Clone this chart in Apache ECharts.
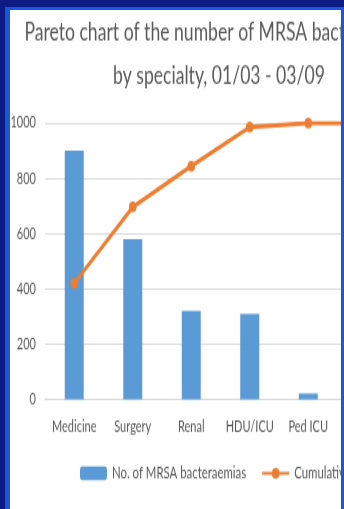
<!DOCTYPE html>
<html>
<head>
<meta charset="utf-8">
<script src="https://cdn.jsdelivr.net/npm/echarts/dist/echarts.min.js"></script>
<style>
  html, body { margin: 0; padding: 0; }
  body { width: 344px; height: 509px; overflow: hidden; background: #0c1c82; position: relative; }
  .frame { position: absolute; left: 5px; top: 7px; width: 339px; height: 502px; background: #1a55e3; }
  .panel { position: absolute; left: 10px; top: 10px; width: 331px; height: 499px; background: #fff; overflow: hidden; }
  /* the source picture is stretched vertically, so the chart is drawn flat and scaled */
  #chart { width: 418px; height: 344px; transform: scaleY(1.45); transform-origin: 0 0; }
</style>
</head>
<body>
<div class="frame"></div>
<div class="panel"><div id="chart"></div></div>
<script>
// data
const categories = ['Medicine', 'Surgery', 'Renal', 'HDU/ICU', 'Ped ICU', 'Other'];
const counts = [900, 580, 320, 310, 22, 0];
const cumulative = [0.42, 0.696, 0.844, 0.985, 0.999, 1.0];
const countTicks = [0, 200, 400, 600, 800, 1000];
const pctTicks = [0, 0.2, 0.4, 0.6, 0.8, 1.0];

const grey = '#595959';
const font = 'Lato';

const myChart = echarts.init(document.getElementById('chart'));

const option = {
  animation: false,
  title: {
    text: 'Pareto chart of the number of MRSA bacteraemias\nby specialty, 01/03 - 03/09',
    left: 'center',
    top: 0.5,
    padding: 0,
    textStyle: {
      fontFamily: font,
      fontSize: 17.6,
      fontWeight: 'normal',
      color: grey,
      lineHeight: 30
    }
  },
  legend: {
    left: 70,
    top: 314,
    padding: 0,
    itemWidth: 27,
    itemHeight: 9.5,
    itemGap: 15,
    textStyle: { fontFamily: font, fontSize: 11.4, color: grey },
    data: ['No. of MRSA bacteraemias', 'Cumulative %']
  },
  grid: {
    left: 35,
    right: 32,
    top: 77.9,
    bottom: 344 - 268.6,
    outerBoundsMode: 'none'
  },
  xAxis: {
    type: 'category',
    data: categories,
    axisTick: { show: false },
    axisLine: { lineStyle: { color: '#d9d9d9', width: 1 } },
    axisLabel: { fontFamily: font, fontSize: 11, color: grey, margin: 13, interval: 0 }
  },
  yAxis: [
    {
      type: 'value',
      min: countTicks[0],
      max: countTicks[countTicks.length - 1],
      interval: countTicks[1] - countTicks[0],
      axisLine: { show: false },
      axisTick: { show: false },
      splitLine: { lineStyle: { color: '#d9d9d9', width: 1 } },
      axisLabel: { fontFamily: font, fontSize: 11, color: grey, margin: 9, formatter: v => String(v) }
    },
    {
      type: 'value',
      min: pctTicks[0],
      max: pctTicks[pctTicks.length - 1],
      interval: pctTicks[1] - pctTicks[0],
      axisLine: { show: false },
      axisTick: { show: false },
      splitLine: { show: false },
      axisLabel: {
        fontFamily: font, fontSize: 11, color: grey,
        formatter: v => Math.round(v * 100) + '%'
      }
    }
  ],
  series: [
    {
      name: 'No. of MRSA bacteraemias',
      type: 'bar',
      data: counts,
      barWidth: 19,
      itemStyle: { color: '#5b9bd5' }
    },
    {
      name: 'Cumulative %',
      type: 'line',
      yAxisIndex: 1,
      data: cumulative,
      symbol: 'circle',
      symbolSize: 7.5,
      z: 5,
      itemStyle: { color: '#ed7d31' },
      lineStyle: { color: '#ed7d31', width: 3 }
    }
  ]
};

myChart.setOption(option);
</script>
</body>
</html>
